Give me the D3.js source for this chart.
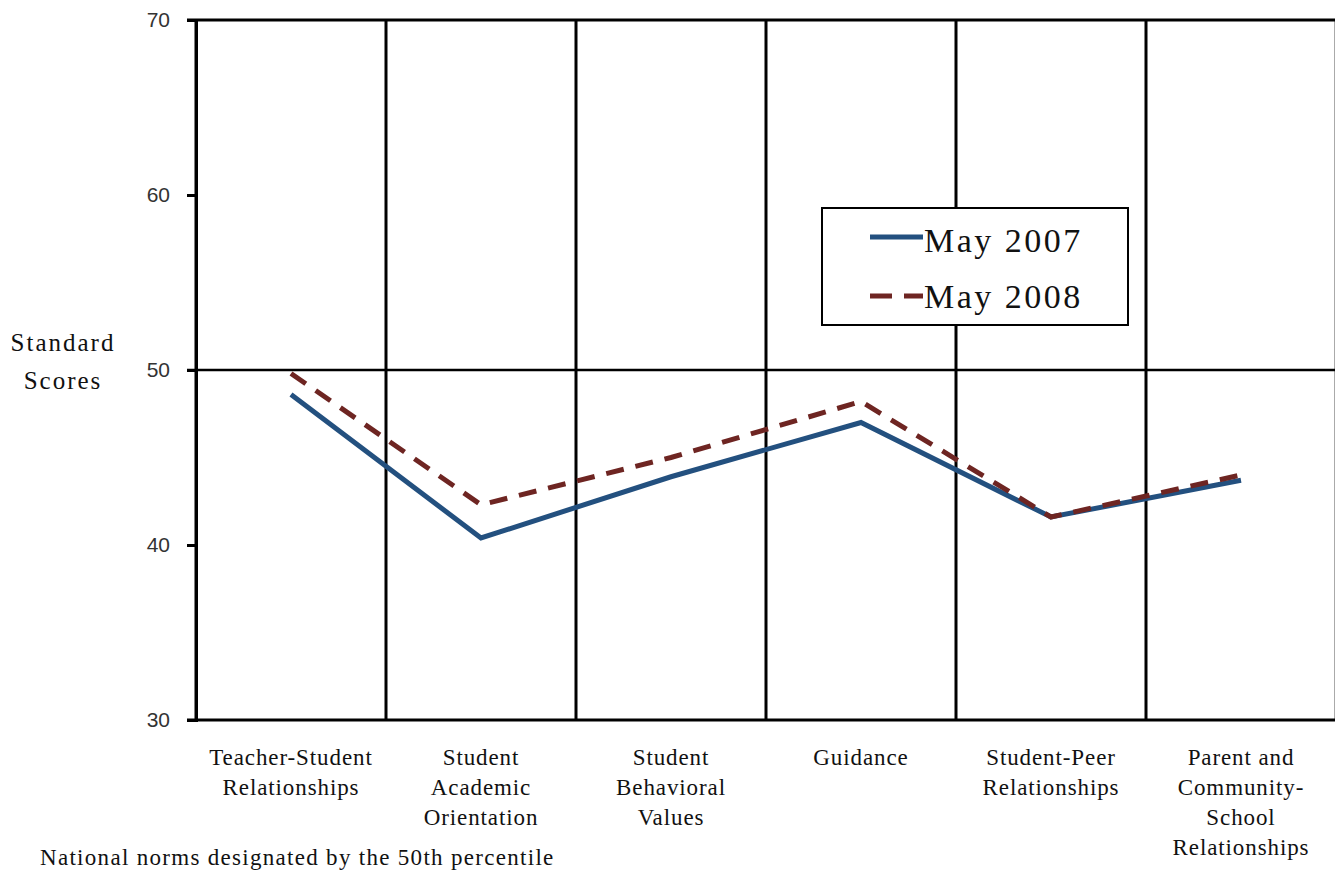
<!DOCTYPE html>
<html>
<head>
<meta charset="utf-8">
<script src="https://cdn.jsdelivr.net/npm/d3@7"></script>
<style>
  body { margin: 0; background: #fff; }
  svg { display: block; }
</style>
</head>
<body>
<div id="visualization"></div>
<script>
const categories = [
    ["Teacher-Student", "Relationships"],
    ["Student", "Academic", "Orientation"],
    ["Student", "Behavioral", "Values"],
    ["Guidance"],
    ["Student-Peer", "Relationships"],
    ["Parent and", "Community-", "School", "Relationships"]
];
const may2007 = [48.6, 40.4, 43.9, 47.0, 41.6, 43.7];
const may2008 = [49.8, 42.3, 45.0, 48.2, 41.6, 44.0];
const yTicks = [30, 40, 50, 60, 70];
const seriesNames = ["May 2007", "May 2008"];

const serif = "'Liberation Serif', 'Times New Roman', serif";
const width = 1335, height = 872;
const svg = d3.select("#visualization").append("svg")
    .attr("width", width)
    .attr("height", height);

const keys = categories.map((c, i) => i);

const xScale = d3.scaleBand()
    .domain(keys)
    .range([196, 1336]);

const yScale = d3.scaleLinear()
    .domain([30, 70])
    .range([720, 20]);

// vertical separators between categories
svg.selectAll("line.vsep")
    .data(keys)
    .enter()
    .append("line")
    .attr("class", "vsep")
    .attr("x1", d => xScale(d))
    .attr("x2", d => xScale(d))
    .attr("y1", yScale(70))
    .attr("y2", yScale(30))
    .attr("stroke", "#000")
    .attr("stroke-width", 3);

// right edge
svg.append("line")
    .attr("x1", 1334.5).attr("x2", 1334.5)
    .attr("y1", yScale(70)).attr("y2", yScale(30))
    .attr("stroke", "#aaa")
    .attr("stroke-width", 1);

// horizontal lines at 70, 50, 30
svg.selectAll("line.hline")
    .data([70, 50, 30])
    .enter()
    .append("line")
    .attr("class", "hline")
    .attr("x1", 187)
    .attr("x2", 1335)
    .attr("y1", d => yScale(d))
    .attr("y2", d => yScale(d))
    .attr("stroke", "#000")
    .attr("stroke-width", d => d === 50 ? 2.5 : 3);

// y axis
const yAxis = svg.append("g")
    .attr("transform", "translate(196,0)")
    .call(d3.axisLeft(yScale).tickValues(yTicks).tickSize(9).tickPadding(17));
yAxis.select(".domain").attr("stroke", "#000").attr("stroke-width", 3);
yAxis.selectAll(".tick line").attr("stroke", "#000").attr("stroke-width", 3);
yAxis.selectAll(".tick text")
    .attr("fill", "#333")
    .style("font-family", "'Liberation Sans', Arial, sans-serif")
    .style("font-size", "21px");

// y label
svg.append("text")
    .attr("x", 63)
    .attr("y", 351)
    .attr("text-anchor", "middle")
    .style("font-family", serif)
    .style("font-size", "25px")
    .style("letter-spacing", "2px")
    .attr("fill", "#111")
    .selectAll("tspan")
    .data(["Standard", "Scores"])
    .enter()
    .append("tspan")
    .attr("x", 63)
    .attr("dy", (d, i) => i === 0 ? 0 : 38)
    .text(d => d);

// category labels
svg.selectAll("text.cat")
    .data(categories)
    .enter()
    .append("text")
    .attr("class", "cat")
    .attr("text-anchor", "middle")
    .attr("y", 765)
    .style("font-family", serif)
    .style("font-size", "23px")
    .style("letter-spacing", "0.9px")
    .attr("fill", "#111")
    .each(function(d, i) {
        d3.select(this).selectAll("tspan")
            .data(d)
            .enter()
            .append("tspan")
            .attr("x", xScale(i) + xScale.bandwidth() / 2)
            .attr("dy", (t, j) => j === 0 ? 0 : 30)
            .text(t => t);
    });

// footnote
svg.append("text")
    .attr("x", 40)
    .attr("y", 865)
    .style("font-family", serif)
    .style("font-size", "23px")
    .style("letter-spacing", "1.3px")
    .attr("fill", "#111")
    .text("National norms designated by the 50th percentile");

// lines
const line = d3.line()
    .x((d, i) => xScale(i) + xScale.bandwidth() / 2)
    .y(d => yScale(d));

svg.append("path")
    .datum(may2007)
    .attr("d", line)
    .attr("fill", "none")
    .attr("stroke", "#23507f")
    .attr("stroke-width", 5);

svg.append("path")
    .datum(may2008)
    .attr("d", line)
    .attr("fill", "none")
    .attr("stroke", "#6e2522")
    .attr("stroke-width", 5)
    .attr("stroke-dasharray", "18,12");

// legend
const legend = svg.append("g");
legend.append("rect")
    .attr("x", 822)
    .attr("y", 208)
    .attr("width", 306)
    .attr("height", 117)
    .attr("fill", "#fff")
    .attr("stroke", "#000")
    .attr("stroke-width", 2);

legend.append("line")
    .attr("x1", 870).attr("x2", 923)
    .attr("y1", 237).attr("y2", 237)
    .attr("stroke", "#23507f")
    .attr("stroke-width", 5);

legend.append("line")
    .attr("x1", 870).attr("x2", 923)
    .attr("y1", 296).attr("y2", 296)
    .attr("stroke", "#6e2522")
    .attr("stroke-width", 5)
    .attr("stroke-dasharray", "22,12");

legend.selectAll("text")
    .data(seriesNames)
    .enter()
    .append("text")
    .attr("x", 924)
    .attr("y", (d, i) => 252 + i * 56)
    .style("font-family", serif)
    .style("font-size", "34px")
    .style("letter-spacing", "2.5px")
    .attr("fill", "#111")
    .text(d => d);
</script>
</body>
</html>
